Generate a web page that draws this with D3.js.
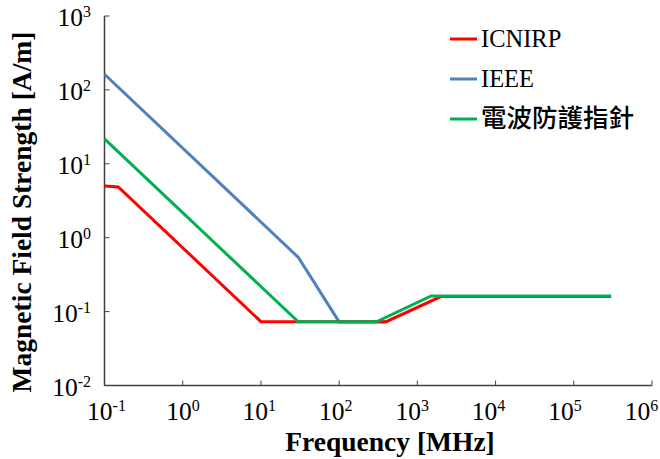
<!DOCTYPE html>
<html>
<head>
<meta charset="utf-8">
<script src="https://cdn.jsdelivr.net/npm/d3@7"></script>
<style>
  body { margin: 0; background: #fff; }
  text { font-family: "Liberation Serif", "Times New Roman", serif; }
</style>
</head>
<body>
<div id="chart"></div>
<script>
// frequency [MHz] / field strength [A/m]
const icnirpF = [0.1, 0.15, 10, 400, 2000, 300000];
const icnirpH = [5, 4.87, 0.073, 0.073, 0.16, 0.16];
const ieeeF = [0.1, 30, 100, 400];
const ieeeH = [163, 0.543, 0.0726, 0.0726];
const japanF = [0.1, 30, 300, 1500, 300000];
const japanH = [21.8, 0.0727, 0.0728, 0.163, 0.163];

const seriesNames = ["ICNIRP", "IEEE", "電波防護指針"];
const seriesColors = ["#ff0000", "#4f81bd", "#00b050"];
const xExps = [-1, 0, 1, 2, 3, 4, 5, 6];
const yExps = [-2, -1, 0, 1, 2, 3];

const width = 660, height = 459;
const margin = { left: 104.5, right: 8, top: 16, bottom: 73.5 };

const svg = d3.select("#chart").append("svg")
    .attr("width", width)
    .attr("height", height);

const x = d3.scaleLog().domain([0.1, 1e6]).range([margin.left, width - margin.right]);
const y = d3.scaleLog().domain([0.01, 1000]).range([height - margin.bottom, margin.top]);

const axisColor = "#404040";

// axes lines
svg.append("line")
    .attr("x1", x(0.1)).attr("x2", x(1e6))
    .attr("y1", y(0.01)).attr("y2", y(0.01))
    .attr("stroke", axisColor).attr("stroke-width", 1.5);
svg.append("line")
    .attr("x1", x(0.1)).attr("x2", x(0.1))
    .attr("y1", y(0.01)).attr("y2", y(1000))
    .attr("stroke", axisColor).attr("stroke-width", 1.5);

// ticks (inward)
svg.selectAll(".xtick").data(xExps).enter().append("line")
    .attr("x1", d => x(Math.pow(10, d))).attr("x2", d => x(Math.pow(10, d)))
    .attr("y1", y(0.01)).attr("y2", y(0.01) - 5)
    .attr("stroke", axisColor).attr("stroke-width", 1);
svg.selectAll(".ytick").data(yExps).enter().append("line")
    .attr("x1", x(0.1)).attr("x2", x(0.1) + 5)
    .attr("y1", d => y(Math.pow(10, d))).attr("y2", d => y(Math.pow(10, d)))
    .attr("stroke", axisColor).attr("stroke-width", 1);

function powLabel(sel) {
    sel.append("tspan").text("10");
    sel.append("tspan").attr("dy", -9).attr("font-size", 16).text(d => d);
}

// labels drift a little left of their ticks in the original
svg.selectAll(".xlab").data(xExps).enter().append("text")
    .attr("x", d => x(Math.pow(10, d)) + 2 - 1.8 * (d + 1))
    .attr("y", y(0.01) + 34.5)
    .attr("text-anchor", "middle")
    .attr("font-size", 25.5)
    .attr("fill", "#000")
    .call(powLabel);

svg.selectAll(".ylab").data(yExps).enter().append("text")
    .attr("x", 91)
    .attr("y", d => y(Math.pow(10, d)) + 10)
    .attr("text-anchor", "end")
    .attr("font-size", 25.5)
    .attr("fill", "#000")
    .call(powLabel);

// axis titles
svg.append("text")
    .attr("x", 390).attr("y", 451)
    .attr("text-anchor", "middle")
    .attr("font-size", 27.5).attr("font-weight", "bold")
    .text("Frequency [MHz]");

svg.append("text")
    .attr("transform", "translate(31,212) rotate(-90)")
    .attr("text-anchor", "middle")
    .attr("font-size", 27.5).attr("font-weight", "bold")
    .text("Magnetic Field Strength [A/m]");

// series
const line = d3.line().x(d => x(d[0])).y(d => y(d[1]));
const series = [
    { name: "IEEE", color: seriesColors[1], pts: d3.zip(ieeeF, ieeeH) },
    { name: "ICNIRP", color: seriesColors[0], pts: d3.zip(icnirpF, icnirpH) },
    { name: "電波防護指針", color: seriesColors[2], pts: d3.zip(japanF, japanH) }
];
svg.selectAll(".series").data(series).enter().append("path")
    .attr("d", d => line(d.pts))
    .attr("fill", "none")
    .attr("stroke", d => d.color)
    .attr("stroke-width", 3)
    .attr("stroke-linejoin", "miter");

// legend
const legY = [39, 79, 119];
const leg = svg.selectAll(".leg").data(seriesNames).enter().append("g")
    .attr("transform", (d, i) => `translate(450,${legY[i]})`);
leg.append("line")
    .attr("x1", 0).attr("x2", 27)
    .attr("stroke", (d, i) => seriesColors[i])
    .attr("stroke-width", 3);
leg.append("text")
    .attr("x", 31).attr("y", 8)
    .attr("font-size", (d, i) => i === 2 ? 25.5 : 24.5)
    .attr("font-weight", (d, i) => i === 2 ? 500 : null)
    .style("font-family", (d, i) => i === 2 ? "'Noto Sans CJK TC', sans-serif" : null)
    .attr("fill", "#000")
    .text(d => d);
</script>
</body>
</html>
